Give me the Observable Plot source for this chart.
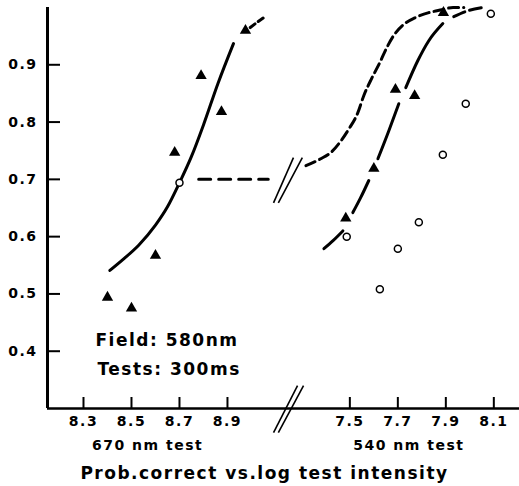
<!DOCTYPE html>
<html><head><meta charset="utf-8">
<script src="https://cdn.jsdelivr.net/npm/d3@7"></script>
<script src="https://cdn.jsdelivr.net/npm/@observablehq/plot@0.6"></script>
<style>
body{margin:0;background:#fff} svg{display:block}
svg text{letter-spacing:1.5px}
g[aria-label="note"] text{letter-spacing:3.5px}
g[aria-label="title"] text{letter-spacing:3.4px}
g[aria-label="axistitle"] text{letter-spacing:3px}
</style>
</head><body><div id="chart"></div>
<script>
// Axis break: 540 nm values are shifted right by this amount on the shared x axis
const SHIFT = 1.91;
const xDomain = [8.15, 10.117];
const yDomain = [0.3, 1.0];

// tick labels
const yTicks = [0.4, 0.5, 0.6, 0.7, 0.8, 0.9];
const xTicks670 = [8.3, 8.5, 8.7, 8.9];
const xTicks540 = [7.5, 7.7, 7.9, 8.1];

// 670 nm test: filled triangles and open circle  [log intensity, prob. correct]
const tri670 = [[8.40,0.494],[8.50,0.475],[8.60,0.567],[8.68,0.747],[8.79,0.881],[8.875,0.818],[8.975,0.960]];
const circ670 = [[8.70,0.694]];
// 670 nm fitted curve (solid) and its dashed tail
const curve670 = [[8.41,0.541],[8.47,0.562],[8.53,0.585],[8.60,0.620],[8.65,0.652],[8.70,0.694],[8.75,0.740],[8.80,0.795],[8.86,0.867],[8.925,0.937]];
const tail670 = [[8.995,0.965],[9.02,0.973],[9.05,0.982]];
// dashed criterion line at 0.7
const crit670 = [[8.78,0.70],[9.07,0.70]];

// 540 nm test
const tri540 = [[7.483,0.632],[7.60,0.719],[7.69,0.857],[7.77,0.846],[7.89,0.991]];
const circ540 = [[7.487,0.600],[7.625,0.508],[7.70,0.579],[7.7875,0.625],[7.8875,0.743],[7.983,0.832],[8.0875,0.989]];
// long-dashed curve (670 curve transferred)
const dashed540 = [[7.317,0.724],[7.379,0.736],[7.421,0.747],[7.4625,0.767],[7.496,0.788],[7.533,0.816],[7.558,0.846],[7.592,0.877],[7.625,0.904],[7.654,0.930],[7.6875,0.954],[7.729,0.972],[7.771,0.982],[7.829,0.991],[7.883,0.996],[7.93,1.0],[7.975,1.0]];
// fitted curve for 540 nm triangles, drawn in pieces (gaps at the markers)
const fit540 = [
  [[7.392,0.579],[7.430,0.593],[7.471,0.610]],
  [[7.5125,0.642],[7.545,0.668],[7.579,0.698]],
  [[7.617,0.736],[7.6625,0.785],[7.704,0.832]],
  [[7.733,0.860],[7.783,0.907],[7.829,0.942],[7.8875,0.972]]
];
const fitTail540 = [[7.933,0.984],[7.99,0.994],[8.054,1.0]];

const rows = (arr, shift = 0) => arr.map(([x, y]) => ({x: x + shift, y}));
const segRows = (segs, shift = 0) => segs.flatMap((s, i) => s.map(([x, y]) => ({x: x + shift, y, seg: i})));

// break marks (double slashes) at the axis and at the 0.7 line
const slashes = [
  {x1: 9.092, y1: 0.258, x2: 9.192, y2: 0.340},
  {x1: 9.112, y1: 0.258, x2: 9.217, y2: 0.340},
  {x1: 9.092, y1: 0.659, x2: 9.175, y2: 0.738},
  {x1: 9.112, y1: 0.659, x2: 9.212, y2: 0.738}
];

const tickPos = [...xTicks670, ...xTicks540.map(v => +(v + SHIFT).toFixed(4))];
const tickLabel = new Map([...xTicks670.map(v => [v, v.toFixed(1)]), ...xTicks540.map(v => [+(v + SHIFT).toFixed(4), v.toFixed(1)])]);

const axisTitles = [
  {label: "670 nm test", x: 8.567},
  {label: "540 nm test", x: 7.746 + SHIFT}
];

const font = "DejaVu Sans, sans-serif";

const chart = Plot.plot({
  width: 519,
  height: 486,
  marginLeft: 47,
  marginRight: 0,
  marginTop: 7,
  marginBottom: 78,
  style: {fontFamily: font, fontWeight: "bold", background: "#fff", color: "#000", letterSpacing: "1.5px"},
  x: {domain: xDomain},
  y: {domain: yDomain},
  marks: [
    Plot.ruleY([yDomain[0]], {stroke: "black", strokeWidth: 2.5}),
    Plot.ruleX([xDomain[0]], {stroke: "black", strokeWidth: 3}),
    Plot.axisY({ticks: yTicks, tickSize: -13, tickPadding: 23, strokeWidth: 2, fontSize: 14, tickFormat: d => d.toFixed(1)}),
    Plot.axisX({ticks: tickPos, tickSize: -11, tickPadding: 19, strokeWidth: 2, fontSize: 14, tickFormat: d => tickLabel.get(+d.toFixed(4))}),
    Plot.link(slashes, {x1: "x1", y1: "y1", x2: "x2", y2: "y2", stroke: "black", strokeWidth: 1.6}),
    Plot.line(rows(curve670), {x: "x", y: "y", stroke: "black", strokeWidth: 3, curve: "monotone-x"}),
    Plot.line(rows(tail670), {x: "x", y: "y", stroke: "black", strokeWidth: 3, strokeDasharray: "6,4"}),
    Plot.line(rows(crit670), {x: "x", y: "y", stroke: "black", strokeWidth: 3, strokeDasharray: "12,8"}),
    Plot.line(rows(dashed540, SHIFT), {x: "x", y: "y", stroke: "black", strokeWidth: 3, strokeDasharray: "10,5", curve: "monotone-x"}),
    Plot.line(segRows(fit540, SHIFT), {x: "x", y: "y", z: "seg", stroke: "black", strokeWidth: 3, curve: "monotone-x"}),
    Plot.line(rows(fitTail540, SHIFT), {x: "x", y: "y", stroke: "black", strokeWidth: 3, strokeDasharray: "12,5", curve: "monotone-x"}),
    Plot.dot(rows(tri670), {x: "x", y: "y", symbol: "triangle", r: 4.2, fill: "black"}),
    Plot.dot(rows(tri540, SHIFT), {x: "x", y: "y", symbol: "triangle", r: 4.2, fill: "black"}),
    Plot.dot(rows(circ670), {x: "x", y: "y", r: 3.5, fill: "white", stroke: "black", strokeWidth: 1.5}),
    Plot.dot(rows(circ540, SHIFT), {x: "x", y: "y", r: 3.5, fill: "white", stroke: "black", strokeWidth: 1.5}),
    Plot.text(axisTitles, {x: "x", text: "label", frameAnchor: "bottom", dy: 41, fontSize: 14, fill: "black", ariaLabel: "axistitle"}),
    Plot.text(["Field: 580nm"], {frameAnchor: "bottom-left", textAnchor: "start", dx: 48, dy: -63, fontSize: 17, fill: "black", ariaLabel: "note"}),
    Plot.text(["Tests: 300ms"], {frameAnchor: "bottom-left", textAnchor: "start", dx: 50, dy: -34, fontSize: 17, fill: "black", ariaLabel: "note"}),
    Plot.text(["Prob.correct vs.log test intensity"], {frameAnchor: "bottom", dx: -19, dy: 70, fontSize: 17, fill: "black", ariaLabel: "title"})
  ]
});
document.getElementById("chart").appendChild(chart);
</script>
</body></html>
